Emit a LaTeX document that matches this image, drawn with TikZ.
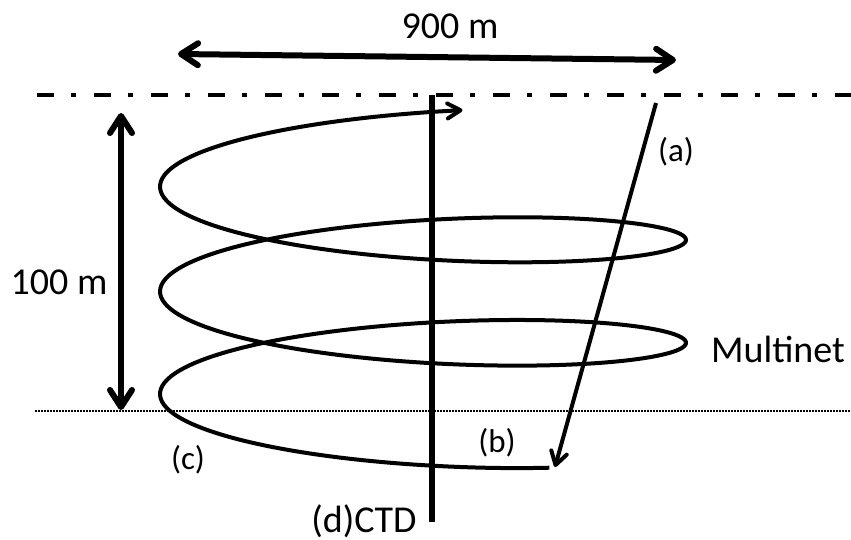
\documentclass[tikz,border=0pt]{standalone}
\usepackage{fontspec}
\setmainfont{Carlito}
\usepackage{tikz}
\usetikzlibrary{arrows.meta, calc}
\definecolor{inkcolor}{HTML}{000000}
\tikzset{
  dimarrow/.style={inkcolor, line width=3pt,
    {Straight Barb[round, length=8.5pt, width=11pt]}-{Straight Barb[round, length=8.5pt, width=11pt]}},
  surfaceline/.style={inkcolor, line width=2.4pt, dash pattern=on 8.5pt off 8.5pt on 2.5pt off 9pt},
  depthline/.style={inkcolor, line width=1pt, dash pattern=on 0.8pt off 0.7pt},
  castline/.style={inkcolor, line width=2.6pt},
  haulline/.style={inkcolor, line width=2pt},
  haulstart/.style={{Straight Barb[round, length=6.5pt, width=7.5pt]}-},
  haulend/.style={-{Straight Barb[round, length=6.5pt, width=8pt]}},
  biglabel/.style={inkcolor, font=\fontsize{19}{22}\selectfont, inner sep=0pt},
  smalllabel/.style={inkcolor, font=\fontsize{16.5}{19}\selectfont, inner sep=0pt}
}

\begin{document}
\begin{tikzpicture}[x=0.5pt, y=-0.5pt]
\useasboundingbox (0,0) rectangle (851,540);

% Sea surface and lower limit of the haul
\draw[surfaceline] (37,95) -- (851,95);
\draw[depthline] (35,411) -- (851,411);

% Horizontal extent
\coordinate (wleft) at (178,54);
\coordinate (wright) at (676,60);
\draw[dimarrow] (wleft) -- (wright);
\node[biglabel] (width) at (450,26) {900 m};

% Depth range
\coordinate (dtop) at (121,113);
\coordinate (dbot) at (121,410);
\draw[dimarrow] (dtop) -- (dbot);
\node[biglabel] (depth) at (59,282) {100 m};

% CTD cast
\coordinate (ctdtop) at (432,95);
\coordinate (ctdbot) at (432,522);
\draw[castline] (ctdtop) -- (ctdbot);
\node[biglabel] (ctd) at (364,521) {(d)CTD};

% Multinet: spiral haul from the surface down to 100 m
\draw[haulline, haulstart] plot[domain=1.42:17.78, samples=320, smooth]
  ({423+263*cos(\x r)}, {138+16.3*\x-45.5*sin(\x r)-6*exp(-0.5*(\x-1.42))});
\node[biglabel] (net) at (778,349) {Multinet};

% Oblique haul
\coordinate (atop) at (656,103);
\coordinate (abot) at (555,467);
\draw[haulline, haulend] (atop) -- (abot);
\node[smalllabel] (lbla) at (676,152) {(a)};
\node[smalllabel] (lblb) at (497,443) {(b)};
\node[smalllabel] (lblc) at (188,460) {(c)};

\end{tikzpicture}
\end{document}
